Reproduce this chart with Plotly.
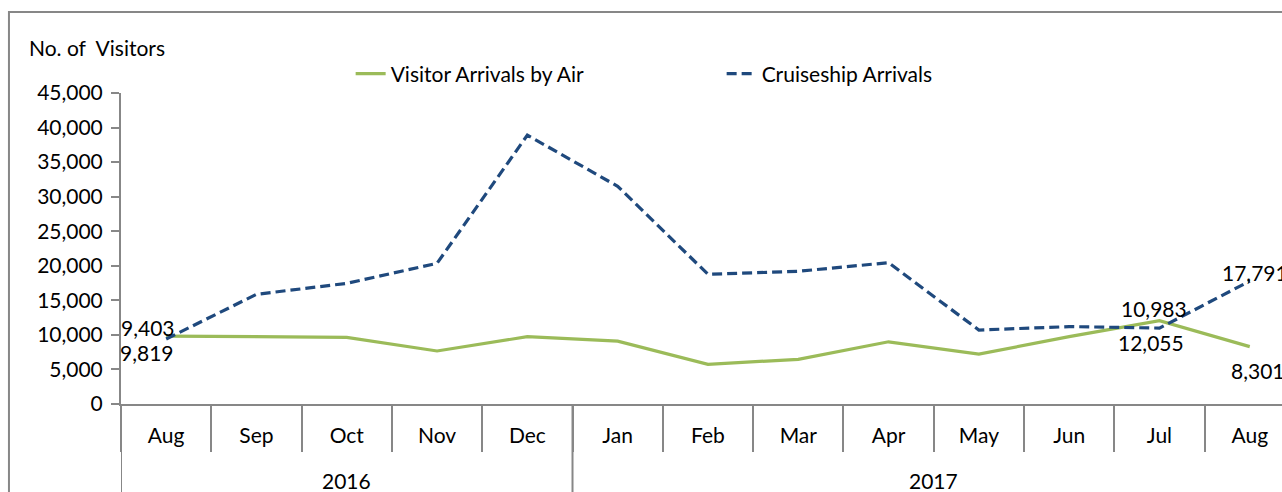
import plotly.graph_objects as go

years = ["2016"] * 5 + ["2017"] * 8
months = ["Aug", "Sep", "Oct", "Nov", "Dec", "Jan", "Feb", "Mar", "Apr", "May", "Jun", "Jul", "Aug"]
air = [9819, 9740, 9650, 7670, 9740, 9100, 5740, 6470, 9000, 7230, 9740, 12055, 8301]
cruise = [9403, 15870, 17460, 20360, 38900, 31500, 18770, 19200, 20450, 10700, 11200, 10983, 17791]

# labelled points: (series, index, text, xshift, yshift)
labels = [
    ("cruise", 0, "9,403", -18, 12),
    ("air", 0, "9,819", -19, -16),
    ("cruise", 11, "10,983", -5, 20),
    ("air", 11, "12,055", -8, -22),
    ("cruise", 12, "17,791", 5, 9),
    ("air", 12, "8,301", 8, -24),
]

FONT = "Lato"
GREY = "#878787"
GREEN = "#9BBB59"
BLUE = "#1F497D"

idx = list(range(len(months)))

fig = go.Figure()
fig.add_trace(go.Scatter(
    x=idx, y=air, mode="lines", name="Visitor Arrivals by Air",
    line=dict(color=GREEN, width=3.2),
))
fig.add_trace(go.Scatter(
    x=idx, y=cruise, mode="lines", name="Cruiseship Arrivals",
    line=dict(color=BLUE, width=3.2, dash="10px,5px"),
))

series = {"air": air, "cruise": cruise}
for s, i, t, dx, dy in labels:
    fig.add_annotation(
        x=i, y=series[s][i], text=t, showarrow=False,
        xanchor="center", yanchor="middle", xshift=dx, yshift=dy,
        font=dict(family=FONT, size=21, color="black"),
    )

# year group labels and dividers
groups = []
for i, yv in enumerate(years):
    if not groups or groups[-1][0] != yv:
        groups.append([yv, i, i])
    else:
        groups[-1][2] = i
for yv, a, b in groups:
    fig.add_annotation(
        x=(a + b) / 2, y=-0.2446, xref="x", yref="paper", text=yv,
        showarrow=False, xanchor="center", yanchor="middle",
        font=dict(family=FONT, size=21, color="black"),
    )
    fig.add_shape(
        type="line", xref="x", yref="paper", x0=a - 0.5, x1=a - 0.5, y0=0, y1=-0.45,
        line=dict(color=GREY, width=2),
    )

fig.add_annotation(
    xref="paper", yref="paper", x=-0.081, y=1.1447, text="No. of  Visitors",
    showarrow=False, xanchor="left", yanchor="middle",
    font=dict(family=FONT, size=21, color="black"),
)

# outer frame of the chart
fig.add_shape(
    type="rect", xref="paper", yref="paper",
    x0=-0.0965, x1=1.05, y0=-0.5, y1=1.2605,
    line=dict(color=GREY, width=2), fillcolor="rgba(0,0,0,0)", layer="below",
)

fig.update_layout(
    width=1282, height=492,
    margin=dict(l=121, r=0, t=93, b=88),
    paper_bgcolor="white", plot_bgcolor="white",
    font=dict(family=FONT, size=21, color="black"),
    showlegend=True,
    legend=dict(
        orientation="h", x=0.1978, y=1.061, xanchor="left", yanchor="middle",
        font=dict(family=FONT, size=21, color="black"),
        entrywidth=326, entrywidthmode="pixels",
        bgcolor="rgba(0,0,0,0)",
    ),
    xaxis=dict(
        range=[-0.5, 12.357],
        tickmode="array", tickvals=idx, ticktext=months,
        showline=True, linecolor=GREY, linewidth=2,
        ticks="", ticklabelstandoff=12,
        minor=dict(tick0=-0.5, dtick=1, ticks="outside", ticklen=46,
                   tickcolor=GREY, tickwidth=2, showgrid=False),
        showgrid=False, zeroline=False,
        tickfont=dict(family=FONT, size=21, color="black"),
    ),
    yaxis=dict(
        range=[0, 45000], dtick=5000, tickformat=",",
        showline=True, linecolor=GREY, linewidth=2,
        ticks="outside", ticklen=8, tickcolor=GREY, tickwidth=2,
        ticklabelstandoff=4,
        showgrid=False, zeroline=False,
        tickfont=dict(family=FONT, size=21, color="black"),
    ),
)

fig.write_html("out.html", config={"displayModeBar": False},
               post_script="document.body.style.margin='0';")
